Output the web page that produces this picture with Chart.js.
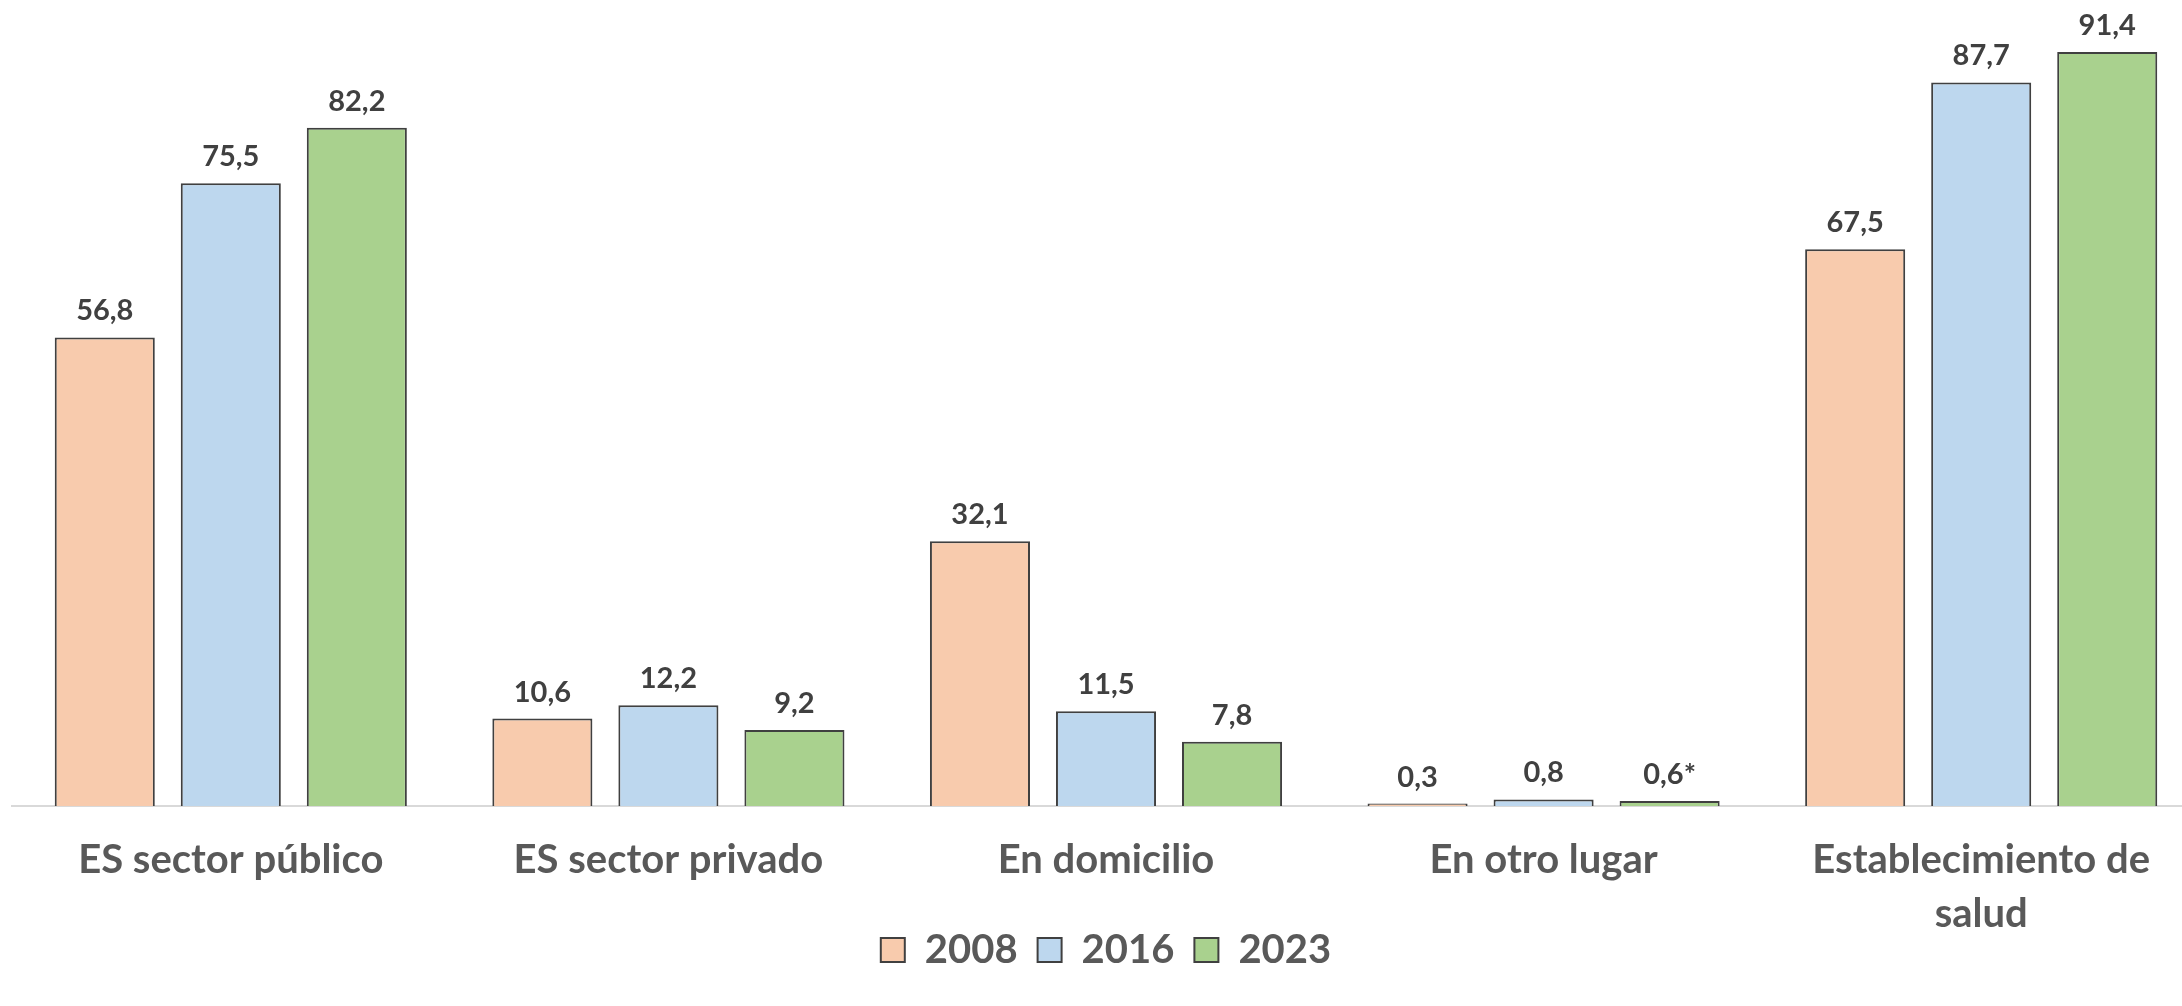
<!DOCTYPE html>
<html>
<head>
<meta charset="utf-8">
<script src="https://cdn.jsdelivr.net/npm/chart.js@4.4.1/dist/chart.umd.min.js"></script>
<style>
  html, body { margin: 0; padding: 0; background: #fff; overflow: hidden; }
  #wrap { width: 2200px; height: 1006px; position: relative; }
</style>
</head>
<body>
<div id="wrap"><canvas id="chart"></canvas></div>
<script>
// categories and series
const categories = [
    'ES sector público',
    'ES sector privado',
    'En domicilio',
    'En otro lugar',
    ['Establecimiento de', 'salud']
];
const years = ['2008', '2016', '2023'];
const values2008 = [56.8, 10.6, 32.1, 0.3, 67.5];
const values2016 = [75.5, 12.2, 11.5, 0.8, 87.7];
const values2023 = [82.2, 9.2, 7.8, 0.6, 91.4];
// footnote marks put after a value label
const notes2023 = ['', '', '', '*', ''];

const colors = ['#F8CBAD', '#BDD7EE', '#A9D18E'];
const FONT = 'Lato, "Open Sans", sans-serif';

// draws the value above each bar, excel style "56,8"
const valueLabels = {
    id: 'valueLabels',
    afterDatasetsDraw(chart) {
        const {ctx} = chart;
        ctx.save();
        ctx.font = 'bold 29px ' + FONT;
        ctx.fillStyle = '#404040';
        ctx.textAlign = 'center';
        ctx.textBaseline = 'alphabetic';
        chart.data.datasets.forEach((ds, i) => {
            const meta = chart.getDatasetMeta(i);
            meta.data.forEach((bar, j) => {
                const txt = ds.data[j].toFixed(1).replace('.', ',') + (ds.notes ? ds.notes[j] : '');
                ctx.fillText(txt, bar.x, bar.y - 17);
            });
        });
        ctx.restore();
    }
};

const seriesData = [values2008, values2016, values2023];

new Chart(document.getElementById('chart'), {
    type: 'bar',
    data: {
        labels: categories,
        datasets: years.map((y, i) => ({
            label: y,
            data: seriesData[i],
            notes: i === 2 ? notes2023 : null,
            backgroundColor: colors[i],
            borderColor: '#404040',
            borderWidth: 2,
            borderSkipped: 'bottom',
            categoryPercentage: 0.864,
            barPercentage: 0.794
        }))
    },
    options: {
        responsive: true,
        maintainAspectRatio: false,
        animation: false,
        layout: {padding: {left: 12, right: 0, top: 0, bottom: 26}},
        plugins: {
            tooltip: {enabled: false},
            legend: {
                position: 'bottom',
                labels: {
                    font: {family: FONT, size: 40, weight: 'bold'},
                    color: '#595959',
                    boxWidth: 24,
                    boxHeight: 24,
                    padding: 20
                }
            }
        },
        scales: {
            y: {
                display: false,
                min: 0,
                max: 97.7
            },
            x: {
                grid: {display: false},
                border: {color: '#D9D9D9', width: 2},
                ticks: {
                    font: {family: FONT, size: 40, weight: 'bold', lineHeight: 1.35},
                    color: '#595959',
                    padding: 19,
                    maxRotation: 0,
                    autoSkip: false
                },
                // labels hang below the axis, the legend sits close under them,
                // so the box is made shorter and the label clip is switched off
                afterFit(scale) {
                    scale.height = 104;
                    scale._computeLabelArea = () => undefined;
                }
            }
        }
    },
    plugins: [valueLabels]
});
</script>
</body>
</html>
